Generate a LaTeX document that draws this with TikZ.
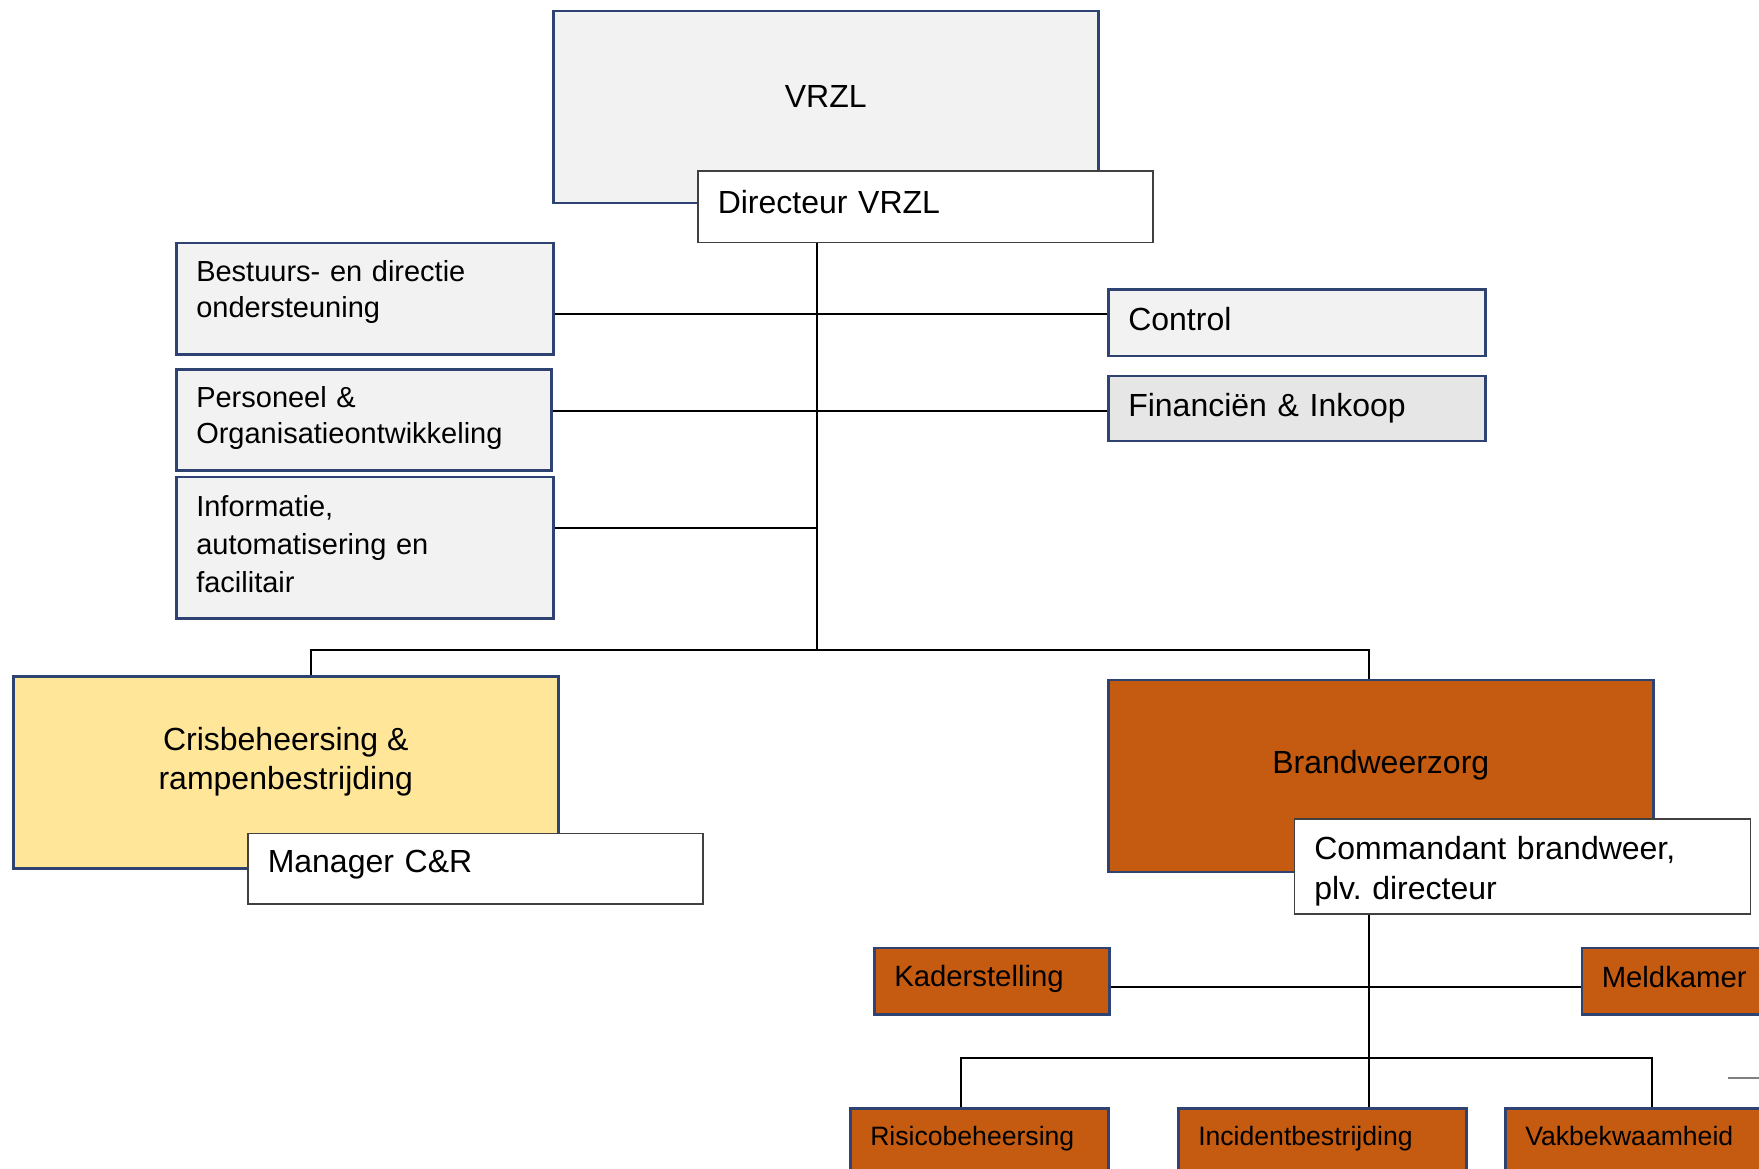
\documentclass[tikz,border=0pt]{standalone}
\usepackage{fontspec}
\setmainfont{Liberation Sans}
\usetikzlibrary{positioning}
\definecolor{boxline}{HTML}{2E4372}
\definecolor{boxgray}{HTML}{F2F2F2}
\definecolor{boxgraydark}{HTML}{E6E6E6}
\definecolor{crisisyellow}{HTML}{FFE699}
\definecolor{brandorange}{HTML}{C55A11}
\definecolor{roleline}{HTML}{404040}
\tikzset{
  unitbox/.style={draw=boxline, line width=2.5pt, anchor=north west, align=left,
                  inner xsep=20pt, inner ysep=0pt, font=\fontsize{29}{36}\selectfont},
  bigbox/.style={draw=boxline, line width=2.5pt, anchor=north west, inner sep=0pt},
  bigtext/.style={align=center, font=\fontsize{32}{39}\selectfont},
  rolebox/.style={draw=roleline, line width=1.5pt, fill=white, anchor=north west, align=left,
                  inner xsep=20pt, inner ysep=0pt, font=\fontsize{32}{40}\selectfont},
  teambox/.style={unitbox, fill=brandorange, font=\fontsize{29.3}{35}\selectfont},
  fieldbox/.style={unitbox, fill=brandorange, font=\fontsize{26.6}{32}\selectfont,
                   text height=25pt, text depth=80pt, inner ysep=12pt},
  link/.style={line width=2.2pt, black},
  stubline/.style={line width=1.5pt, gray}
}
\begin{document}
\begin{tikzpicture}[x=1pt, y=-1pt]
                  % Frame
                  \clip (0,0) rectangle (1759,1169);

                  % Define points
                  \coordinate (hub) at (817,650);
                  \coordinate (rowA) at (817,314);
                  \coordinate (rowB) at (817,411);
                  \coordinate (rowC) at (817,528);
                  \coordinate (crisisdrop) at (311,650);
                  \coordinate (branddrop) at (1369,650);
                  \coordinate (rowD) at (1369,987);
                  \coordinate (fieldhub) at (1369,1058);
                  \coordinate (risicodrop) at (961,1058);
                  \coordinate (vakdrop) at (1652,1058);
                  \coordinate (stub) at (1728,1078);

                  % Draw top boxes
                  \node[bigbox, fill=boxgray, minimum width=545pt, minimum height=192pt] (vrzl) at (552,10) {};
                  \node[bigtext] (vrzltext) at ([yshift=11pt]vrzl.center) {VRZL};
                  \node[rolebox, text width=415pt, minimum height=71.5pt, text depth=11pt] (dir) at (697,170.5)
                    {Directeur VRZL};

                  % Draw staff boxes
                  \node[unitbox, fill=boxgray, text width=337pt, minimum height=111pt, text depth=55.5pt]
                    (bestuur) at (175,242) {Bestuurs- en directie\\ondersteuning};
                  \node[unitbox, fill=boxgray, text width=335pt, minimum height=101pt, text depth=46.5pt]
                    (personeel) at (175,368) {Personeel \&\\Organisatieontwikkeling};
                  \node[unitbox, fill=boxgray, text width=337pt, minimum height=141.5pt, text depth=84pt,
                        font=\fontsize{29}{38}\selectfont] (info) at (175,475.5)
                    {Informatie,\\automatisering en\\facilitair};
                  \node[unitbox, fill=boxgray, text width=337pt, minimum height=66.5pt, text depth=6.8pt,
                        font=\fontsize{32}{39}\selectfont] (control) at (1107,288) {Control};
                  \node[unitbox, fill=boxgraydark, text width=337pt, minimum height=65pt,
                        font=\fontsize{32}{39}\selectfont] (fin) at (1107,374.5) {Financiën \& Inkoop};

                  % Draw sectors
                  \node[bigbox, fill=crisisyellow, minimum width=545pt, minimum height=192pt] (crisis) at (12,675) {};
                  \node[bigtext] (crisistext) at ([yshift=11pt]crisis.center) {Crisbeheersing \&\\rampenbestrijding};
                  \node[rolebox, text width=415pt, minimum height=70.5pt, text depth=13.5pt] (manager) at (247,832.5)
                    {Manager C\&R};

                  \node[bigbox, fill=brandorange, minimum width=545pt, minimum height=192pt] (brand) at (1107,678.5) {};
                  \node[bigtext] (brandtext) at ([yshift=10.5pt]brand.center) {Brandweerzorg};
                  \node[rolebox, text width=416pt, minimum height=95pt, text depth=37.5pt] (command) at (1293.5,818)
                    {Commandant brandweer,\\plv.\ directeur};

                  % Draw fire brigade teams
                  \node[teambox, text width=195pt, minimum height=66.5pt, text depth=10.3pt] (kader) at (873,946.5)
                    {Kaderstelling};
                  \node[teambox, text width=180pt, minimum height=66.5pt, text depth=9pt] (meld) at (1580.5,946.5)
                    {Meldkamer};
                  \node[fieldbox, text width=218pt] (risico) at (849,1107) {Risicobeheersing};
                  \node[fieldbox, text width=248pt] (incident) at (1177,1107) {Incidentbestrijding};
                  \node[fieldbox, text width=260pt] (vak) at (1504,1107) {Vakbekwaamheid};

                  % Connectors
                  \draw[link] (hub |- dir.south) -- (hub);
                  \draw[link] (rowA -| bestuur.east) -- (rowA -| control.west);
                  \draw[link] (rowB -| personeel.east) -- (rowB -| fin.west);
                  \draw[link] (rowC -| info.east) -- (rowC);
                  \draw[link] (crisisdrop |- crisis.north) -- (crisisdrop) -- (branddrop) -- (branddrop |- brand.north);
                  \draw[link] (fieldhub |- command.south) -- (fieldhub |- incident.north);
                  \draw[link] (rowD -| kader.east) -- (rowD -| meld.west);
                  \draw[link] (risicodrop |- risico.north) -- (risicodrop) -- (vakdrop) -- (vakdrop |- vak.north);
                  \draw[stubline] (stub) -- ++(40,0);

              \end{tikzpicture}
\end{document}
